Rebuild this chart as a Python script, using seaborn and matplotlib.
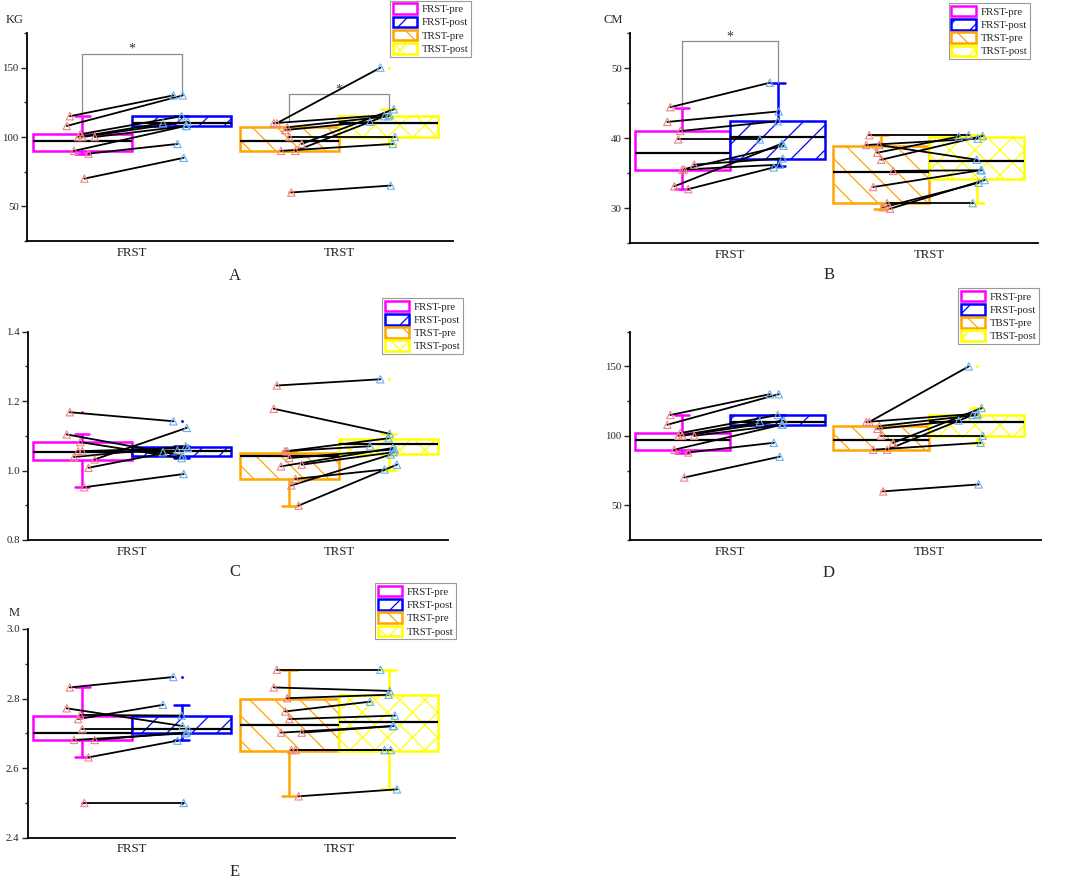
import matplotlib
matplotlib.use("Agg")
import matplotlib.pyplot as plt
from matplotlib.patches import Patch
from matplotlib.ticker import MultipleLocator, FormatStrFormatter
import numpy as np
import pandas as pd
import seaborn as sns

# ---- panel A / D : KG (same values in both panels)
kg_frst_pre = [115, 108, 102, 100, 100, 100, 90, 88, 70]
kg_frst_post = [130, 130, 115, 110, 111, 108, 108, 95, 85]
kg_trst_pre = [110, 110, 107, 105, 100, 95, 90, 90, 60]
kg_trst_post = [150, 116, 115, 111, 100, 120, 95, 115, 65]
# box order: FRST-pre, FRST-post, TRST-pre, TRST-post
kg_q1 = [90, 108, 90, 100]
kg_med = [97, 110, 97, 110]
kg_q3 = [102, 115, 107, 115]
kg_wlo = [88, 108, 90, 95]
kg_whi = [115, 115, 107, 120]
kg_fliers = [[], [], [60], [150]]
# significance: group, top, left leg end, right leg end
kg_sig = [(0, 160, 115, 130), (1, 131, 111, 120)]

# ---- panel B : CM
cm_frst_pre = [44.4, 42.3, 41.0, 39.8, 35.5, 36.2, 33.1, 32.7, 35.5]
cm_frst_post = [47.9, 43.8, 42.4, 39.8, 38.9, 37.1, 39.2, 35.8, 36.2]
cm_trst_pre = [40.4, 39.0, 39.0, 37.9, 36.9, 35.3, 33.0, 30.7, 30.1, 29.9]
cm_trst_post = [40.4, 39.9, 36.9, 40.2, 40.3, 35.4, 35.4, 30.7, 33.6, 34.0]
cm_q1 = [35.5, 37.0, 30.7, 34.1]
cm_med = [37.8, 40.1, 35.2, 36.7]
cm_q3 = [41.0, 42.4, 38.9, 40.1]
cm_wlo = [32.7, 36.0, 29.9, 30.7]
cm_whi = [44.3, 47.8, 40.4, 40.4]
cm_fliers = [[], [], [], []]
cm_sig = [(0, 53.8, 44.3, 47.8)]

# ---- panel C : ratio
r_frst_pre = [1.168, 1.104, 1.082, 1.056, 1.056, 1.032, 1.039, 1.008, 0.952]
r_frst_post = [1.142, 1.043, 1.036, 1.053, 1.065, 1.123, 1.070, 1.058, 0.990]
r_trst_pre = [1.245, 1.178, 1.056, 1.056, 1.036, 1.017, 1.012, 0.976, 0.957, 0.899]
r_trst_post = [1.263, 1.106, 1.093, 1.070, 1.061, 1.053, 1.065, 1.003, 1.046, 1.017]
r_q1 = [1.030, 1.043, 0.975, 1.047]
r_med = [1.054, 1.057, 1.042, 1.077]
r_q3 = [1.082, 1.067, 1.050, 1.090]
r_wlo = [0.952, 1.036, 0.899, 1.003]
r_whi = [1.104, 1.070, 1.056, 1.106]
r_fliers = [[1.168], [1.142], [], [1.263]]

# ---- panel E : M
m_frst_pre = [2.832, 2.772, 2.753, 2.741, 2.712, 2.681, 2.681, 2.631, 2.500]
m_frst_post = [2.862, 2.721, 2.751, 2.782, 2.712, 2.703, 2.700, 2.679, 2.500]
m_trst_pre = [2.883, 2.832, 2.801, 2.763, 2.741, 2.702, 2.702, 2.652, 2.652, 2.519]
m_trst_post = [2.883, 2.822, 2.811, 2.791, 2.751, 2.721, 2.721, 2.652, 2.652, 2.539]
m_q1 = [2.68, 2.70, 2.65, 2.65]
m_med = [2.70, 2.712, 2.723, 2.734]
m_q3 = [2.75, 2.75, 2.80, 2.811]
m_wlo = [2.631, 2.68, 2.52, 2.54]
m_whi = [2.832, 2.782, 2.883, 2.883]
m_fliers = [[2.5], [2.862, 2.5], [], []]

cats_trst = ["FRST", "TRST"]
cats_tbst = ["FRST", "TBST"]
leg_trst = ["FRST-pre", "FRST-post", "TRST-pre", "TRST-post"]
leg_tbst = ["FRST-pre", "FRST-post", "TBST-pre", "TBST-post"]

# style
DPI = 75
S = 100 / DPI  # keeps pixel sizes; hatch spacing follows the dpi
BOX_COLORS = ["#ff00ff", "#0000ff", "#ffa500", "#ffff00"]
HATCHES = ["", "/", "\\", "x"]
PRE_TRI = "#f08484"
POST_TRI = "#6fb0ea"
HALF = 0.24
WIDTH = 0.48
PRE_JIT = [-0.06, -0.075, -0.01, -0.02, 0.0, 0.06, -0.04, 0.03, 0.01, 0.045]
POST_JIT = [-0.04, 0.005, 0.0, -0.09, 0.03, 0.025, 0.02, -0.02, 0.01, 0.04]

sns.set_style("ticks")
plt.rcParams["font.family"] = ["Liberation Serif", "DejaVu Serif"]
plt.rcParams["hatch.linewidth"] = 0.9 * S


def panel(ax, groups, q1, med, q3, wlo, whi, fliers, cats, labels,
          ylim, major, minor, fmt, xlim, anchor, sig=()):
    pos = [-HALF, HALF, 1 - HALF, 1 + HALF]
    for i in range(4):
        c = BOX_COLORS[i]
        st = [dict(q1=q1[i], med=med[i], q3=q3[i], whislo=wlo[i],
                   whishi=whi[i], fliers=fliers[i])]
        ax.bxp(st, positions=[pos[i]], widths=WIDTH, capwidths=0.07,
               patch_artist=True, showfliers=True, manage_ticks=False,
               boxprops=dict(facecolor="white", edgecolor=c, linewidth=1.8 * S,
                             hatch=HATCHES[i]),
               medianprops=dict(color="black", linewidth=1.6 * S),
               whiskerprops=dict(color=c, linewidth=1.8 * S),
               capprops=dict(color=c, linewidth=1.8 * S),
               flierprops=dict(marker=".", markersize=2.5 * S, markerfacecolor=c,
                               markeredgecolor=c, linestyle="none"),
               zorder=1)

    rows = []
    sid = 0
    for g, (pre, post) in enumerate(groups):
        for k, (a, b) in enumerate(zip(pre, post)):
            rows.append(dict(subject=sid, phase="pre", value=a,
                             x=g - HALF + PRE_JIT[k]))
            rows.append(dict(subject=sid, phase="post", value=b,
                             x=g + HALF + POST_JIT[k]))
            sid += 1
    df = pd.DataFrame(rows)
    sns.lineplot(data=df, x="x", y="value", units="subject", estimator=None,
                 sort=False, color="black", linewidth=1.3 * S, ax=ax, zorder=2)
    for ph, col in (("pre", PRE_TRI), ("post", POST_TRI)):
        sns.scatterplot(data=df[df.phase == ph], x="x", y="value", marker="^",
                        s=28 * S * S, color=col, facecolor="none", edgecolor=col,
                        linewidth=0.8 * S, ax=ax, zorder=3)

    for g, top, y1, y2 in sig:
        x1, x2 = g - HALF, g + HALF
        ax.plot([x1, x1, x2, x2], [y1, top, top, y2], color="#8c8c8c",
                lw=0.9 * S, zorder=1.5)
        ax.annotate("*", xy=(g, top), xytext=(0, -1.5 * S),
                    textcoords="offset points", ha="center", va="bottom",
                    fontsize=10 * S, color="#333333", zorder=4)

    ax.set_xlim(*xlim)
    ax.set_ylim(*ylim)
    ax.set_xticks([0, 1], cats)
    ax.set_xlabel("")
    ax.set_ylabel("")
    ax.yaxis.set_major_locator(MultipleLocator(major))
    ax.yaxis.set_minor_locator(MultipleLocator(minor))
    ax.yaxis.set_major_formatter(FormatStrFormatter(fmt))
    ax.tick_params(axis="y", which="major", direction="out", length=4 * S,
                   width=1 * S, labelsize=7.8 * S, pad=2 * S)
    ax.tick_params(axis="y", which="minor", direction="out", length=2 * S,
                   width=1 * S)
    ax.tick_params(axis="x", length=0, labelsize=9.2 * S, pad=4 * S)
    sns.despine(ax=ax)
    for s in ("left", "bottom"):
        ax.spines[s].set_linewidth(1.3 * S)
        ax.spines[s].set_color("black")

    handles = [Patch(facecolor="white", edgecolor=BOX_COLORS[i],
                     hatch=HATCHES[i], linewidth=1.8 * S, label=labels[i])
               for i in range(4)]
    leg = ax.legend(handles=handles, loc="upper right", bbox_to_anchor=anchor,
                    fontsize=7.7 * S, frameon=True, fancybox=False,
                    edgecolor="#9a9a9a", framealpha=1, handlelength=2.3,
                    handleheight=1.15, labelspacing=0.22, borderpad=0.25,
                    handletextpad=0.4, borderaxespad=0)
    leg.get_frame().set_linewidth(0.8 * S)


fig = plt.figure(figsize=(1065 / DPI, 878 / DPI), dpi=DPI)
axA = fig.add_axes([0.0254, 0.7255, 0.4000, 0.2369])
axB = fig.add_axes([0.5915, 0.7232, 0.3831, 0.2392])
axC = fig.add_axes([0.0263, 0.3850, 0.3944, 0.2372])
axD = fig.add_axes([0.5915, 0.3850, 0.3859, 0.2372])
axE = fig.add_axes([0.0263, 0.0459, 0.4009, 0.2377])

panel(axA, [(kg_frst_pre, kg_frst_post), (kg_trst_pre, kg_trst_post)],
      kg_q1, kg_med, kg_q3, kg_wlo, kg_whi, kg_fliers, cats_trst, leg_trst,
      (25, 175), 50, 25, "%d", (-0.507, 1.551), (1.042, 1.156), kg_sig)
panel(axB, [(cm_frst_pre, cm_frst_post), (cm_trst_pre, cm_trst_post)],
      cm_q1, cm_med, cm_q3, cm_wlo, cm_whi, cm_fliers, cats_trst, leg_trst,
      (25, 55), 10, 5, "%d", (-0.503, 1.548), (0.980, 1.143), cm_sig)
panel(axC, [(r_frst_pre, r_frst_post), (r_trst_pre, r_trst_post)],
      r_q1, r_med, r_q3, r_wlo, r_whi, r_fliers, cats_trst, leg_trst,
      (0.8, 1.4), 0.2, 0.1, "%.1f", (-0.502, 1.527), (1.036, 1.162))
panel(axD, [(kg_frst_pre, kg_frst_post), (kg_trst_pre, kg_trst_post)],
      kg_q1, kg_med, kg_q3, kg_wlo, kg_whi, kg_fliers, cats_tbst, leg_tbst,
      (25, 175), 50, 25, "%d", (-0.503, 1.563), (0.995, 1.21))
panel(axE, [(m_frst_pre, m_frst_post), (m_trst_pre, m_trst_post)],
      m_q1, m_med, m_q3, m_wlo, m_whi, m_fliers, cats_trst, leg_trst,
      (2.4, 3.0), 0.2, 0.1, "%.1f", (-0.502, 1.560), (1.002, 1.22))

fig.text(0.014, 0.977, "KG", ha="center", va="center", fontsize=9 * S)
fig.text(0.5756, 0.977, "CM", ha="center", va="center", fontsize=9 * S)
fig.text(0.0131, 0.3018, "M", ha="center", va="center", fontsize=9 * S)
for letter, x, y in (("A", 0.2207, 0.6856), ("B", 0.778, 0.6868),
                     ("C", 0.2207, 0.3485), ("D", 0.778, 0.3474),
                     ("E", 0.2207, 0.0068)):
    fig.text(x, y, letter, ha="center", va="center", fontsize=12 * S)

fig.savefig("out.png", dpi=DPI)
